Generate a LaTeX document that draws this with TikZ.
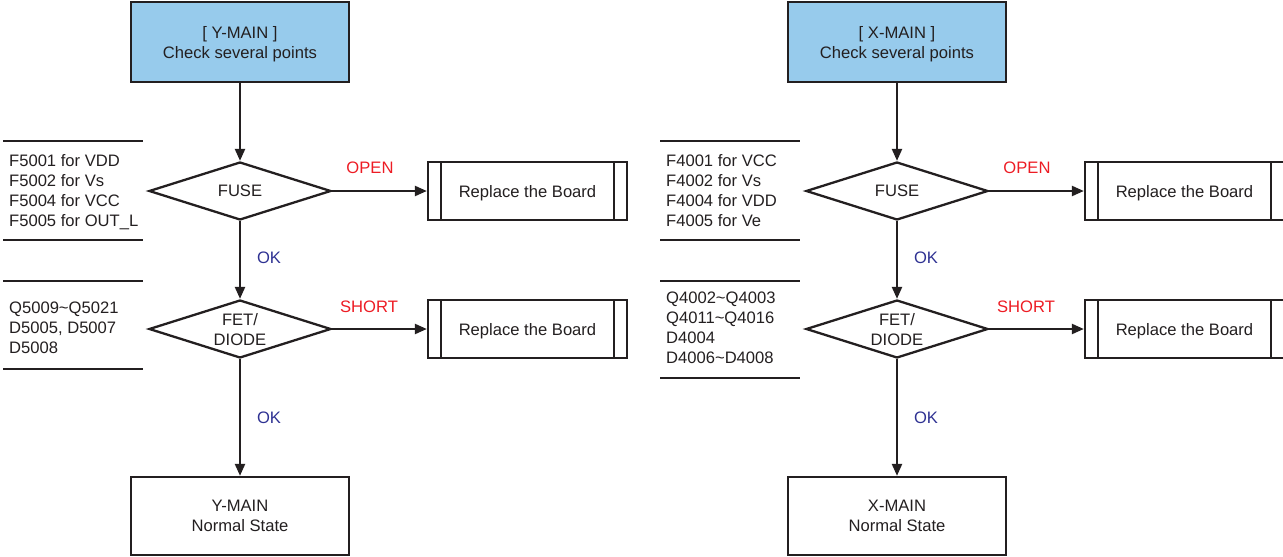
\documentclass[tikz,border=0pt]{standalone}
\usepackage{fontspec}
\setmainfont{Liberation Sans}
\usepackage{tikz}
\usetikzlibrary{shapes.geometric,arrows.meta}
\definecolor{boxblue}{RGB}{151,203,236}
\definecolor{inkgray}{RGB}{35,31,32}
\definecolor{okblue}{RGB}{46,49,146}
\definecolor{failred}{RGB}{237,28,36}

\begin{document}
\begin{tikzpicture}[x=1pt, y=-1pt, line width=2.3pt, draw=inkgray,
  every node/.style={font=\fontsize{16.6}{20}\selectfont, text=inkgray, text depth=0pt},
  startbox/.style={draw, fill=boxblue, minimum width=218pt, minimum height=80pt, align=center},
  endbox/.style={draw, minimum width=218pt, minimum height=78pt, align=center},
  decision/.style={draw, diamond, aspect=3.1, inner sep=0pt, minimum width=182pt, minimum height=58pt, align=center},
  procbox/.style={draw, minimum width=199pt, minimum height=58pt, path picture={
    \draw ([xshift=13pt]path picture bounding box.north west) -- ([xshift=13pt]path picture bounding box.south west);
    \draw ([xshift=-13pt]path picture bounding box.north east) -- ([xshift=-13pt]path picture bounding box.south east);}},
  notes/.style={anchor=west, align=left, inner sep=3pt},
  flow/.style={-{Triangle[length=12pt,width=10pt]}}]
\useasboundingbox (0,0) rectangle (1283,557);

% Y-MAIN column
\node[startbox] (ystart) at (240,42) {[ Y-MAIN ]\\Check several points};
\node[decision] (yfuse) at (240,191) {FUSE};
\node[decision] (yfet) at (240,329) {FET/\\DIODE};
\node[procbox] (yrep1) at (527.5,191) {Replace the Board};
\node[procbox] (yrep2) at (527.5,329) {Replace the Board};
\node[endbox] (yend) at (240,516) {Y-MAIN\\Normal State};

\draw[flow] (ystart) -- (yfuse);
\draw[flow] (yfuse) -- (yfet);
\draw[flow] (yfet) -- (yend);
\draw[flow] (yfuse) -- (yrep1);
\draw[flow] (yfet) -- (yrep2);

\node[text=failred] (yopen) at (370,168) {OPEN};
\node[text=failred] (yshort) at (369,307) {SHORT};
\node[text=okblue] (yok1) at (269,258) {OK};
\node[text=okblue] (yok2) at (269,418) {OK};

\node[notes] (yfusenote) at (5,190) {F5001 for VDD\\F5002 for Vs\\F5004 for VCC\\F5005 for OUT\_L};
\draw (3,141) -- (143,141);
\draw (3,240) -- (143,240);
\node[notes] (yfetnote) at (5,328) {Q5009\textasciitilde Q5021\\D5005, D5007\\D5008};
\draw (3,281) -- (143,281);
\draw (3,369) -- (143,369);

% X-MAIN column
\node[startbox] (xstart) at (897,42) {[ X-MAIN ]\\Check several points};
\node[decision] (xfuse) at (897,191) {FUSE};
\node[decision] (xfet) at (897,329) {FET/\\DIODE};
\node[procbox] (xrep1) at (1184.5,191) {Replace the Board};
\node[procbox] (xrep2) at (1184.5,329) {Replace the Board};
\node[endbox] (xend) at (897,516) {X-MAIN\\Normal State};

\draw[flow] (xstart) -- (xfuse);
\draw[flow] (xfuse) -- (xfet);
\draw[flow] (xfet) -- (xend);
\draw[flow] (xfuse) -- (xrep1);
\draw[flow] (xfet) -- (xrep2);

\node[text=failred] (xopen) at (1027,168) {OPEN};
\node[text=failred] (xshort) at (1026,307) {SHORT};
\node[text=okblue] (xok1) at (926,258) {OK};
\node[text=okblue] (xok2) at (926,418) {OK};

\node[notes] (xfusenote) at (662,190) {F4001 for VCC\\F4002 for Vs\\F4004 for VDD\\F4005 for Ve};
\draw (660,141) -- (800,141);
\draw (660,240) -- (800,240);
\node[notes] (xfetnote) at (662,328) {Q4002\textasciitilde Q4003\\Q4011\textasciitilde Q4016\\D4004\\D4006\textasciitilde D4008};
\draw (660,281) -- (800,281);
\draw (660,378) -- (800,378);
\end{tikzpicture}
\end{document}
